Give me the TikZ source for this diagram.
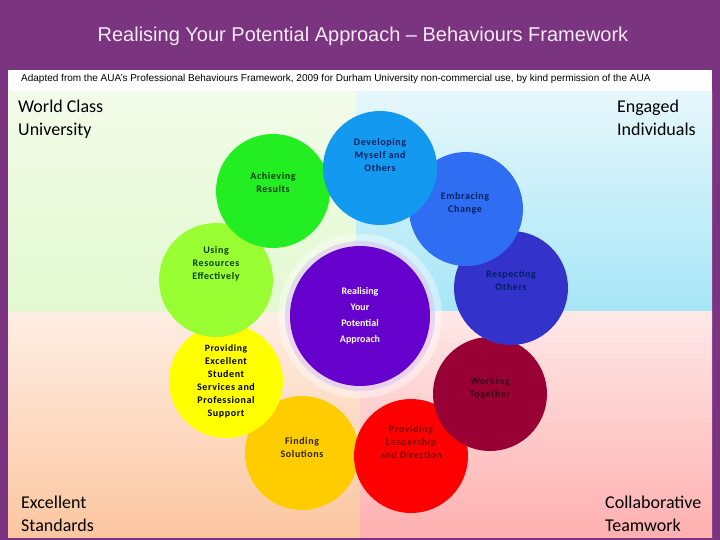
\documentclass[tikz,border=0pt]{standalone}
\usepackage{fontspec}
\setmainfont{Liberation Sans}
\newfontfamily\calibri{Carlito}
\newfontfamily\calibriwide{Carlito}[LetterSpace=6]
\usetikzlibrary{positioning}
\definecolor{rpurple}{HTML}{7B3580}
\definecolor{rtitle}{HTML}{F7E9F7}
\definecolor{gtop}{HTML}{F3FBE9}
\definecolor{gbot}{HTML}{E2F9D0}
\definecolor{ctop}{HTML}{E6F7FB}
\definecolor{cbot}{HTML}{A6E6F7}
\definecolor{otop}{HTML}{FEEEE4}
\definecolor{obot}{HTML}{FCC6A0}
\definecolor{ptop}{HTML}{FFE8E8}
\definecolor{pbot}{HTML}{FFB0B0}
\definecolor{bdev}{HTML}{1499F0}
\definecolor{bach}{HTML}{22EE22}
\definecolor{bemb}{HTML}{2F6EF2}
\definecolor{bres}{HTML}{3333CC}
\definecolor{bwork}{HTML}{990033}
\definecolor{blead}{HTML}{FF0000}
\definecolor{bfind}{HTML}{FFCC00}
\definecolor{bserv}{HTML}{FFFF00}
\definecolor{buse}{HTML}{99FF33}
\definecolor{bcore}{HTML}{6600CC}
\definecolor{tnavy}{HTML}{002060}
\definecolor{tgreen}{HTML}{0B3B0B}
\definecolor{tmaroon}{HTML}{3A0018}
\definecolor{tred}{HTML}{800000}
\definecolor{tbrown}{HTML}{2E2200}
\tikzset{
  bubble/.style={circle,minimum size=114pt,inner sep=0pt},
  blab/.style={align=center,inner sep=0pt,font=\calibriwide\bfseries\fontsize{10}{13}\selectfont},
  corner/.style={align=left,inner sep=0pt,anchor=north west,font=\calibri\fontsize{18}{23}\selectfont},
}
\begin{document}
\begin{tikzpicture}[x=1pt,y=-1pt]
  \useasboundingbox (0,0) rectangle (720,540);
  \fill[rpurple] (0,0) rectangle (720,540);
  \node[text=rtitle,font=\fontsize{20}{22}\selectfont] (title) at (363,36)
    {Realising Your Potential Approach -- Behaviours Framework};
  % caption strip and the four quadrants
  \fill[white] (8,70) rectangle (712,92);
  \node[anchor=west,inner sep=0pt,font=\fontsize{10}{11}\selectfont] (credit) at (21,79)
    {Adapted from the AUA's Professional Behaviours Framework, 2009 for Durham University non-commercial use, by kind permission of the AUA};
  \shade[top color=gtop,bottom color=gbot] (8,92) rectangle (356,312);
  \shade[top color=ctop,bottom color=cbot] (356,92) rectangle (712,311);
  \shade[top color=otop,bottom color=obot] (8,312) rectangle (360,537);
  \shade[top color=ptop,bottom color=pbot] (360,311) rectangle (712,537);
  \node[corner] (wcu) at (18,100) {World Class\\University};
  \node[corner] (ei) at (617,100) {Engaged\\Individuals};
  \node[corner] (es) at (21,496) {Excellent\\Standards};
  \node[corner] (ct) at (605,496) {Collaborative\\Teamwork};
  % the nine behaviours, back to front
  \foreach \x/\y/\c/\tx/\ty/\tc/\txt [count=\ix] in {
    302/453/bfind/302/448/tbrown/{Finding\\Solutions},
    411/456/blead/411/442/tred/{\fontsize{10}{15}\selectfont Providing\\Leadership\\and Direction},
    490/394/bwork/490/388/tmaroon/{\fontsize{10}{15}\selectfont Working\\Together},
    511/288/bres/511/281/tnavy/{\fontsize{10}{15}\selectfont Respecting\\Others},
    466/209/bemb/465/203/tnavy/{\fontsize{10}{15}\selectfont Embracing\\Change},
    226/381/bserv/226/381/black/{\fontsize{9.6}{12}\selectfont Providing\\Excellent\\Student\\Services and\\Professional\\Support},
    216/280/buse/216/264/tgreen/{Using\\Resources\\Effectively},
    273/191/bach/273/183/tgreen/{Achieving\\Results},
    380/168/bdev/380/155/tnavy/{\fontsize{10}{15}\selectfont Developing\\Myself and\\Others}} {
    \node[bubble,fill=\c] (b\ix) at (\x,\y) {};
    \node[blab,text=\tc] (t\ix) at (\tx,\ty) {\txt};
  }
  % centre
  \fill[white,opacity=0.4] (360,316) circle (82);
  \fill[bcore!25,opacity=0.55] (360,316) circle (75);
  \node[bubble,fill=bcore,minimum size=140pt] (core) at (360,316) {};
  \node[blab,text=white,font=\calibri\bfseries\fontsize{10}{16}\selectfont] (corelab) at (360,316)
    {Realising\\Your\\Potential\\Approach};
\end{tikzpicture}
\end{document}
